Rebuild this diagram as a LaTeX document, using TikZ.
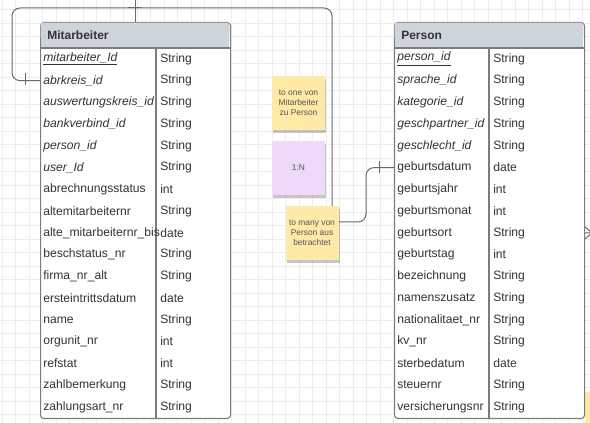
\documentclass[tikz,border=0pt]{standalone}
\usepackage{fontspec}
\setmainfont{Liberation Sans}
\usetikzlibrary{shadows}
\definecolor{gridc}{HTML}{EDEDED}
\definecolor{tblc}{HTML}{7C7C7C}
\definecolor{hdrc}{HTML}{CED4DC}
\definecolor{txtc}{HTML}{333333}
\definecolor{linec}{HTML}{6A6A6A}
\definecolor{yel}{HTML}{FFE9A6}
\definecolor{pur}{HTML}{EFD9F8}
\definecolor{stxt}{HTML}{555555}
\newcommand\rowU[1]{\underline{\itshape #1}}
\newcommand\rowI[1]{{\itshape #1}}
\newcommand\rowN[1]{#1}
\tikzset{
  tbl/.style={draw=tblc, line width=0.8pt, rounded corners=2.5pt, fill=white,
    minimum width=142.5pt, minimum height=297pt, anchor=north west, inner sep=0pt},
  hdrtxt/.style={anchor=west, inner sep=0pt, text=txtc, font=\fontsize{9}{11}\selectfont\bfseries},
  rowtxt/.style={anchor=west, inner sep=0pt, text=txtc, font=\fontsize{9.1}{11}\selectfont},
  sticky/.style={inner sep=0pt, minimum width=39.75pt, minimum height=40.5pt, align=center,
    text=stxt, font=\fontsize{6.3}{7.6}\selectfont,
    drop shadow={shadow xshift=0.8pt, shadow yshift=-2pt, opacity=0.22, fill=black}},
  conn/.style={draw=linec, line width=0.75pt},
}
\begin{document}
\begin{tikzpicture}[x=0.75pt,y=-0.75pt]
\useasboundingbox (0,0) rectangle (590,423);
\fill[white] (0,0) rectangle (590,423);
% grid
\foreach \gx in {2.2,15.7,...,590} \draw[gridc, line width=0.4pt] (\gx,0) -- (\gx,423);
\foreach \gy in {9.7,23.2,...,423} \draw[gridc, line width=0.4pt] (0,\gy) -- (590,\gy);

% partial sticky at the bottom right
\fill[yel] (585,392) rectangle (595,430);

% connectors (behind notes)
\coordinate (bendA) at (12,8);
\coordinate (bendB) at (332,222);
\coordinate (bendC) at (366,167.6);

% Mitarbeiter table
\node[tbl] (mit) at (40,22) {};
\fill[hdrc, rounded corners=2pt] (40.6,22.6) rectangle (229.4,40);
\fill[hdrc] (40.6,34) rectangle (229.4,48);
\draw[tblc, line width=0.8pt] (40,48) -- (230,48);
\draw[tblc, line width=0.8pt] (156,48) -- (156,418);
\node[hdrtxt] (mith) at (47,35) {Mitarbeiter};
\foreach \n/\t/\s [count=\i] in {
  mitarbeiter\_Id/String/U, abrkreis\_id/String/I, auswertungskreis\_id/String/I,
  bankverbind\_id/String/I, person\_id/String/I, user\_Id/String/I,
  abrechnungsstatus/int/N, altemitarbeiternr/String/N, alte\_mitarbeiternr\_bis/date/N,
  beschstatus\_nr/String/N, firma\_nr\_alt/String/N, ersteintrittsdatum/date/N,
  name/String/N, orgunit\_nr/int/N, refstat/int/N, zahlbemerkung/String/N,
  zahlungsart\_nr/String/N} {
  \node[rowtxt] (m\i) at (43,{48+(\i-0.5)*21.75}) {\csname row\s\endcsname{\n}};
  \node[rowtxt] (mt\i) at (160,{48+(\i-0.5)*21.75}) {\t};
}

% Person table
\node[tbl] (per) at (394,22) {};
\fill[hdrc, rounded corners=2pt] (394.6,22.6) rectangle (583.4,40);
\fill[hdrc] (394.6,34) rectangle (583.4,48);
\draw[tblc, line width=0.8pt] (394,48) -- (584,48);
\draw[tblc, line width=0.8pt] (489,48) -- (489,418);
\node[hdrtxt] (perh) at (401,35) {Person};
\foreach \n/\t/\s [count=\i] in {
  person\_id/String/U, sprache\_id/String/I, kategorie\_id/String/I,
  geschpartner\_id/String/I, geschlecht\_id/String/I, geburtsdatum/date/N,
  geburtsjahr/int/N, geburtsmonat/int/N, geburtsort/String/N, geburtstag/int/N,
  bezeichnung/String/N, namenszusatz/String/N, nationalitaet\_nr/Strjng/N,
  kv\_nr/String/N, sterbedatum/date/N, steuernr/String/N, versicherungsnr/String/N} {
  \node[rowtxt] (p\i) at (397,{48+(\i-0.5)*21.75}) {\csname row\s\endcsname{\n}};
  \node[rowtxt] (pt\i) at (493,{48+(\i-0.5)*21.75}) {\t};
}

% relationship Mitarbeiter -> Person
\draw[conn, rounded corners=6pt] (mit.west |- m2) -| (bendA) -| (bendB) -| (bendC) -- (per.west |- p6);
\draw[conn] (25,73) -- (25,85);
\draw[conn] (379,161.5) -- (379,173.5);

% relationship leaving at the top
\coordinate (topEnd) at (135,-2);
\draw[conn] (mit.north -| topEnd) -- (topEnd);
\draw[conn] (128,7.3) -- (142,7.3);

% crow's foot leaving at the right
\coordinate (cfEnd) at (592,232.9);
\draw[conn] (per.east |- p9) -- (cfEnd);
\draw[conn] ([yshift=4.5pt]per.east |- p9) -- (cfEnd);
\draw[conn] ([yshift=-4.5pt]per.east |- p9) -- (cfEnd);

% sticky notes
\node[sticky, fill=yel] (s1) at (298.5,103) {to one von\\Mitarbeiter\\zu Person};
\node[sticky, fill=pur] (s2) at (298.5,168) {1:N};
\node[sticky, fill=yel] (s3) at (312,233) {to many von\\Person aus\\betrachtet};
\end{tikzpicture}
\end{document}
